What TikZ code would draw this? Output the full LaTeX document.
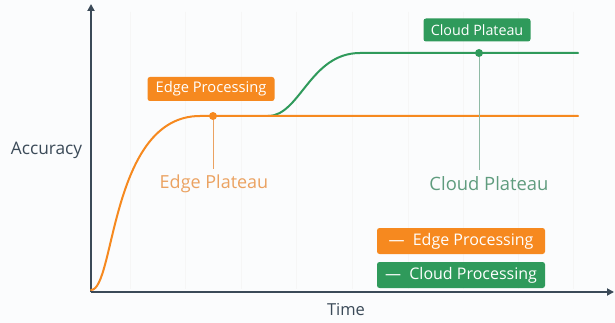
\documentclass[tikz,border=0pt]{standalone}
\usepackage{fontspec}
\setmainfont{Open Sans}
\usetikzlibrary{arrows.meta}
\definecolor{axiscol}{HTML}{3B4A58}
\definecolor{edgeorange}{HTML}{F6891F}
\definecolor{cloudgreen}{HTML}{2F9A5B}
\definecolor{edgetext}{HTML}{EBA261}
\definecolor{cloudtext}{HTML}{5F9C7E}
\definecolor{bgcol}{HTML}{FBFCFD}
\tikzset{
  axisline/.style={draw=axiscol, line width=2.4pt, -{Triangle[length=7pt,width=7pt]}},
  gridline/.style={draw=gray!7, line width=0.8pt},
  curve/.style={line width=2pt, line cap=round},
  tag/.style={rounded corners=2.5pt, text=white, inner sep=0pt, align=center},
  dot/.style={circle, inner sep=0pt, minimum size=8pt},
  drop/.style={line width=0.6pt},
}
\begin{document}
\begin{tikzpicture}[x=1pt,y=-1pt]
  \useasboundingbox[fill=bgcol] (0,0) rectangle (615,323);
  % faint vertical grid
  \foreach \gx in {130,185,241,296,352,408,463,518,573}
    \draw[gridline] (\gx,12) -- (\gx,289);
  % axes
  \coordinate (origin) at (91,292);
  \coordinate (ytip) at (91,4);
  \coordinate (xtip) at (614,292);
  \draw[axisline] (origin) -- (ytip);
  \draw[axisline] (origin) -- (xtip);
  \node[font=\fontsize{17.3}{20}\selectfont, text=axiscol] (ylab) at (46.5,150) {Accuracy};
  \node[font=\fontsize{16.5}{19}\selectfont, text=axiscol] (xlab) at (346,310) {Time};
  % curves
  \coordinate (estart) at (91,290);
  \coordinate (eknee) at (200,116);
  \coordinate (split) at (268,116);
  \coordinate (eend) at (578,116);
  \coordinate (cknee) at (360,53);
  \coordinate (cend) at (578,53);
  \draw[curve, cloudgreen] (split) .. controls (300,116) and (310,53) .. (cknee) -- (cend);
  \draw[curve, edgeorange] (estart) .. controls (115,290) and (110,116) .. (eknee) -- (eend);
  % plateau markers
  \node[dot, fill=edgeorange] (edot) at (213,116) {};
  \node[dot, fill=cloudgreen] (cdot) at (479,53) {};
  \node[font=\fontsize{18}{21}\selectfont, text=edgetext] (eplat) at (214,184) {Edge Plateau};
  \node[font=\fontsize{18.4}{21}\selectfont, text=cloudtext] (cplat) at (489,184) {Cloud Plateau};
  \draw[drop, draw=edgetext] (edot) -- (213,169);
  \draw[drop, draw=cloudtext!70] (cdot) -- (479,170);
  % tags
  \node[tag, fill=edgeorange, minimum width=127pt, minimum height=24pt, font=\fontsize{14.7}{16}\selectfont] (etag) at (211,89) {Edge Processing};
  \node[tag, fill=cloudgreen, minimum width=107pt, minimum height=23pt, font=\fontsize{14.3}{16}\selectfont] (ctag) at (477,30) {Cloud Plateau};
  % legend
  \node[tag, fill=edgeorange, minimum width=168pt, minimum height=26pt, font=\fontsize{16}{18}\selectfont] (eleg) at (461,241) {--- \ Edge Processing};
  \node[tag, fill=cloudgreen, minimum width=168pt, minimum height=26pt, font=\fontsize{16}{18}\selectfont] (cleg) at (461,275) {--- \ Cloud Processing};
\end{tikzpicture}
\end{document}
